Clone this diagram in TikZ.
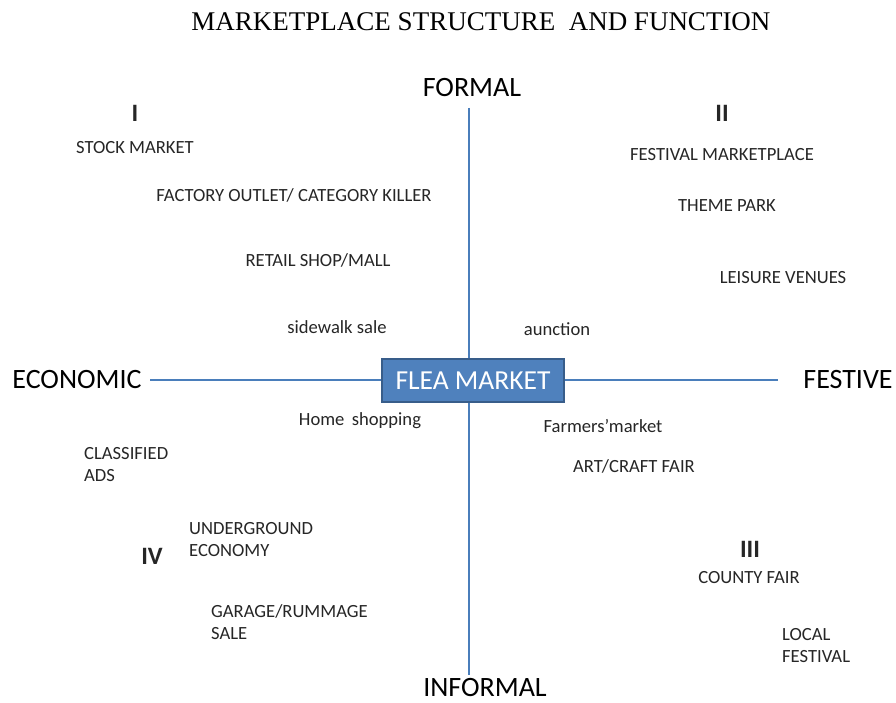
\documentclass[tikz,border=0pt]{standalone}
\usepackage{fontspec}
\setmainfont{Carlito}
\newfontfamily\titlefont{Liberation Serif}
\usepackage{tikz}
\usetikzlibrary{backgrounds}
\definecolor{axisblue}{HTML}{4A7EBB}
\definecolor{boxfill}{HTML}{4F81BD}
\definecolor{boxline}{HTML}{385D8A}
\definecolor{txt}{HTML}{262626}
\tikzset{
  axis/.style={draw=axisblue, line width=1.6pt},
  axislabel/.style={inner sep=0pt, text=black, font=\fontsize{28}{32}\selectfont},
  item/.style={inner sep=0pt, text=txt, font=\fontsize{18.6}{22}\selectfont},
  quad/.style={inner sep=0pt, text=txt, font=\bfseries\fontsize{25}{28}\selectfont},
  fleabox/.style={draw=boxline, line width=2pt, fill=boxfill, text=white,
    minimum width=182pt, minimum height=43pt, font=\fontsize{27.5}{30}\selectfont}
}

\begin{document}
\begin{tikzpicture}[x=1pt,y=-1pt]
\useasboundingbox[fill=white] (0,0) rectangle (896,703);
\node[inner sep=0pt, font=\titlefont\fontsize{27}{30}\selectfont] (title) at (481,22) {MARKETPLACE STRUCTURE\ \ AND FUNCTION};

% axes
\node[axislabel] (formal) at (472,88) {FORMAL};
\node[axislabel] (informal) at (485,688) {INFORMAL};
\node[axislabel] (economic) at (77,380) {ECONOMIC};
\node[axislabel] (festive) at (848,380) {FESTIVE};
\coordinate (vtop) at (469,108);
\coordinate (vbot) at (469,675);
\coordinate (hleft) at (150,380);
\coordinate (hright) at (778,380);
\draw[axis] (vtop) -- (vbot);
\draw[axis] (hleft) -- (hright);
\node[fleabox] (flea) at (473,380.5) {FLEA MARKET};

% quadrants
\node[quad] (qI) at (135,113) {I};
\node[quad] (qII) at (722,113) {II};
\node[quad] (qIII) at (750,549) {III};
\node[quad] (qIV) at (152,556) {IV};

% quadrant I
\node[item] (stock) at (135,148) {STOCK MARKET};
\node[item] (factory) at (294,195) {FACTORY OUTLET/ CATEGORY KILLER};
\node[item] (retail) at (318,260) {RETAIL SHOP/MALL};
\node[item] (sidewalk) at (337,327) {sidewalk sale};

% quadrant II
\node[item] (festmarket) at (722,155) {FESTIVAL MARKETPLACE};
\node[item] (theme) at (727,206) {THEME PARK};
\node[item] (leisure) at (783,278) {LEISURE VENUES};
\node[item] (auction) at (557,329) {aunction};

% quadrant III
\node[item] (farmers) at (603,426) {Farmers’market};
\node[item] (artcraft) at (634,466) {ART/CRAFT FAIR};
\node[item] (county) at (749,578) {COUNTY FAIR};
\node[item, anchor=west, align=left] (local) at (782,646) {LOCAL\\FESTIVAL};

% quadrant IV
\node[item] (home) at (360,421) {Home\hspace{0.4em}shopping};
\node[item, anchor=west, align=left] (classified) at (84,465) {CLASSIFIED\\ADS};
\node[item, anchor=west, align=left] (underground) at (189,540) {UNDERGROUND\\ECONOMY};
\node[item, anchor=west, align=left] (garage) at (211,622) {GARAGE/RUMMAGE\\SALE};
\end{tikzpicture}
\end{document}
